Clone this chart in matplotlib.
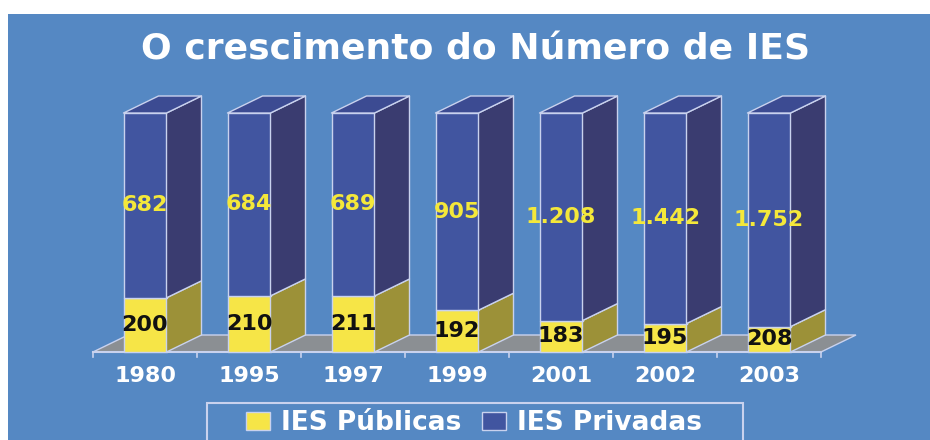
import matplotlib.pyplot as plt
from matplotlib.patches import Polygon, Rectangle, Patch

anos = ["1980", "1995", "1997", "1999", "2001", "2002", "2003"]
publicas = [200, 210, 211, 192, 183, 195, 208]
privadas = [682, 684, 689, 905, 1208, 1442, 1752]
rotulos_priv = ["682", "684", "689", "905", "1.208", "1.442", "1.752"]
rotulos_pub = ["200", "210", "211", "192", "183", "195", "208"]

FUNDO = "#5588c3"
AZUL = "#4155a0"
AZUL_LADO = "#3a3c70"
AZUL_TOPO = "#3c4b92"
AMARELO = "#f6e547"
AMARELO_LADO = "#9c9138"
CINZA = "#8b8f93"
BORDA = "#c9d2ee"

W, H = 930, 440
fig = plt.figure(figsize=(W / 100, H / 100), dpi=100, facecolor="white")

# area azul (deixa a borda branca em cima e a esquerda)
ax = fig.add_axes([8 / W, 0, 1 - 8 / W, 426 / H])
ax.set_facecolor(FUNDO)
for s in ax.spines.values():
    s.set_visible(False)
ax.set_xticks([])
ax.set_yticks([])

# escala: 104 px por categoria, 239 px para 100%
x0, px_cat = 145, 104
y0, px_val = 88, 239
ax.set_xlim((8 - x0) / px_cat, (W - x0) / px_cat)
ax.set_ylim(-y0 / px_val, (426 - y0) / px_val)

largura = 43 / px_cat
dx = 35 / px_cat
dy = 17 / px_val
n = len(anos)

# piso
piso = Polygon([(-0.5, 0), (n - 0.5, 0), (n - 0.5 + dx, dy), (-0.5 + dx, dy)],
               closed=True, facecolor=CINZA, edgecolor=BORDA, lw=1.0, zorder=1)
ax.add_patch(piso)
ax.plot([-0.5, n - 0.5], [0, 0], color=BORDA, lw=1.5, zorder=2)
for k in range(n + 1):
    ax.plot([k - 0.5, k - 0.5], [0, -5 / px_val], color=BORDA, lw=1.2, zorder=2)


def bloco(xc, y_a, y_b, frente, lado, topo=None):
    xl, xr = xc - largura / 2, xc + largura / 2
    kw = dict(edgecolor=BORDA, lw=1.0, zorder=3, joinstyle="round")
    ax.add_patch(Polygon([(xl, y_a), (xr, y_a), (xr, y_b), (xl, y_b)], facecolor=frente, **kw))
    ax.add_patch(Polygon([(xr, y_a), (xr + dx, y_a + dy), (xr + dx, y_b + dy), (xr, y_b)],
                         facecolor=lado, **kw))
    if topo is not None:
        ax.add_patch(Polygon([(xl, y_b), (xr, y_b), (xr + dx, y_b + dy), (xl + dx, y_b + dy)],
                             facecolor=topo, **kw))


for i in range(n):
    total = publicas[i] + privadas[i]
    p = publicas[i] / total
    bloco(i, 0, p, AMARELO, AMARELO_LADO)
    bloco(i, p, 1, AZUL, AZUL_LADO, AZUL_TOPO)
    ax.text(i, p / 2, rotulos_pub[i], ha="center", va="center", fontsize=16,
            fontweight="bold", color="#111111", zorder=5)
    ax.text(i, (1 + p) / 2, rotulos_priv[i], ha="center", va="center", fontsize=16,
            fontweight="bold", color="#f4e83a", zorder=5)
    ax.text(i, -24 / px_val, anos[i], ha="center", va="center", fontsize=16,
            fontweight="bold", color="white", zorder=5)

fig.text(476 / W, 1 - 49 / H, "O crescimento do Número de IES", ha="center", va="center",
         fontsize=26, fontweight="bold", color="white")

# moldura da legenda (cortada na borda de baixo)
fig.patches.append(Rectangle((207 / W, -0.05), (743 - 207) / W, (H - 403) / H + 0.05,
                             transform=fig.transFigure, facecolor="none",
                             edgecolor=BORDA, lw=1.5))
handles = [Patch(facecolor=AMARELO, edgecolor=BORDA, label="IES Públicas"),
           Patch(facecolor=AZUL, edgecolor=BORDA, label="IES Privadas")]
fig.legend(handles=handles, loc="center", bbox_to_anchor=(474 / W, 1 - 423 / H), ncol=2,
           frameon=False, fontsize=19, prop={"weight": "bold", "size": 19},
           labelcolor="white", handlelength=0.9, handleheight=0.65,
           handletextpad=0.4, columnspacing=0.8)

fig.savefig("out.png", dpi=100, facecolor="white")
